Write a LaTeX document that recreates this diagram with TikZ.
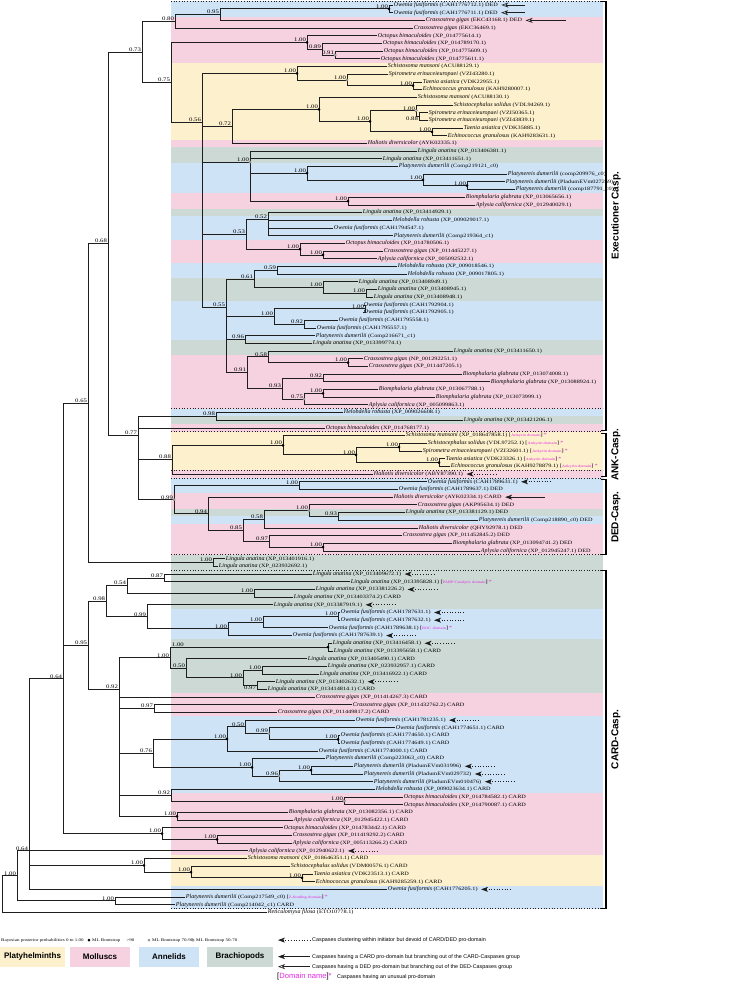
\documentclass[tikz,border=0pt]{standalone}
\usepackage{fontspec}
\usepackage{graphicx}
\setmainfont{Liberation Serif}
\newfontfamily\lsans{Liberation Sans}
\usetikzlibrary{arrows.meta}
\definecolor{ln}{RGB}{30,30,30}
\definecolor{pla}{RGB}{253,240,204}
\definecolor{mol}{RGB}{246,210,224}
\definecolor{ann}{RGB}{207,227,246}
\definecolor{bra}{RGB}{204,217,212}
\definecolor{mag}{RGB}{226,40,226}
\definecolor{dotg}{RGB}{150,150,150}
\tikzset{
 br/.style={draw=ln, line width=0.8pt},
 lf/.style={anchor=west, inner sep=0pt, inner xsep=0.8pt, font=\fontsize{6}{6}\selectfont, text height=4pt, text depth=1.3pt},
 bs/.style={anchor=south east, inner sep=0pt, xshift=-0.8pt, yshift=0.4pt, font=\fontsize{5.4}{5.4}\selectfont},
 bsb/.style={anchor=north east, inner sep=0pt, xshift=-0.8pt, yshift=-0.6pt, font=\fontsize{5.4}{5.4}\selectfont},
 sepl/.style={dotted, line width=0.7pt, draw=ln},
 darrow/.style={dotted, line width=0.7pt, draw=ln, {Stealth[length=7pt,width=5pt,inset=2pt]}-},
 carrow/.style={line width=0.7pt, draw=ln, {Stealth[length=7pt,width=5pt,inset=2pt]}-},
 dedarrow/.style={line width=0.6pt, draw=ln, {Stealth[open,length=7pt,width=5pt,inset=2pt]}-},
 brk/.style={line width=1.1pt, draw=black},
 grp/.style={rotate=90, inner sep=0pt, font=\fontsize{10}{10}\lsans\bfseries},
 lgt/.style={anchor=west, inner sep=0pt, font=\fontsize{4}{4}\selectfont},
 lgr/.style={anchor=west, inner sep=0pt, font=\fontsize{5.4}{5.4}\lsans},
 lgbox/.style={minimum height=20pt, inner sep=0pt, font=\fontsize{8}{8}\lsans\bfseries}
}
\newcommand\st[1]{\scalebox{1.25}[1]{#1}}
\newcommand\ac[1]{\st{\fontsize{5}{5}\selectfont #1}}
\newcommand\nm[2]{\textit{#1} \ac{(#2)}}
\newcommand\dmn[1]{\ \ac{[}\st{\color{mag}\fontsize{3.6}{3.6}\selectfont #1}\ac{]}\,{\color{mag}\ac{*}}}
\newcommand\Lf[3]{\node[lf] (L#1) at (#2,#1) {#3};}
\newcommand\Nd[4]{\coordinate (#1) at (#2,#3);\node[bs] (lb#1) at (#1) {\st{#4}};}
\newcommand\Ndb[4]{\coordinate (#1) at (#2,#3);\node[bsb] (lb#1) at (#1) {\st{#4}};}
\newcommand\Ed[2]{\foreach \kid in {#2}{\draw[br] (#1) |- (\kid);}}
\newcommand\Db[1]{\fill[black] (#1) circle (1.5pt);}
\newcommand\Dg[1]{\fill[dotg] (#1) circle (1.5pt);}
\newcommand\Do[1]{\filldraw[fill=white, draw=black!70, line width=0.4pt] (#1) circle (1.4pt);}
\newcommand\Da[2][30]{\draw[darrow] ([xshift=2.5pt]#2.east) -- ++(#1pt,0);}
\newcommand\Ca[2][30]{\draw[carrow] ([xshift=2.5pt]#2.east) -- ++(#1pt,0);}
\newcommand\Dd[2][30]{\draw[dedarrow] ([xshift=2.5pt]#2.east) -- ++(#1pt,0);}
\begin{document}
\begin{tikzpicture}[x=1pt,y=-7.69pt]
\useasboundingbox (0,-0.65) rectangle (740,127.31);
% ---------- bands
\fill[ann] (171,-0.5) rectangle (603,1.5);
\fill[mol] (171,1.5) rectangle (603,7.5);
\fill[pla] (171,7.5) rectangle (603,17.5);
\fill[mol] (171,17.5) rectangle (603,18.5);
\fill[bra] (171,18.5) rectangle (603,20.5);
\fill[ann] (171,20.5) rectangle (603,24.5);
\fill[mol] (171,24.5) rectangle (603,26.5);
\fill[bra] (171,26.5) rectangle (603,27.5);
\fill[ann] (171,27.5) rectangle (603,30.5);
\fill[mol] (171,30.5) rectangle (603,33.5);
\fill[ann] (171,33.5) rectangle (603,35.5);
\fill[bra] (171,35.5) rectangle (603,38.5);
\fill[ann] (171,38.5) rectangle (603,43.5);
\fill[bra] (171,43.5) rectangle (603,45.5);
\fill[mol] (171,45.5) rectangle (603,52.5);
\fill[ann] (171,52.5) rectangle (603,53.5);
\fill[bra] (171,53.5) rectangle (603,54.5);
\fill[mol] (171,54.5) rectangle (603,55.5);
\fill[pla] (171,55.5) rectangle (603,60.5);
\fill[mol] (171,60.5) rectangle (603,61.5);
\fill[ann] (171,61.5) rectangle (603,63.5);
\fill[mol] (171,63.5) rectangle (603,65.5);
\fill[bra] (171,65.5) rectangle (603,66.5);
\fill[ann] (171,66.5) rectangle (603,67.5);
\fill[mol] (171,67.5) rectangle (603,71.5);
\fill[bra] (171,71.5) rectangle (603,78.5);
\fill[ann] (171,78.5) rectangle (603,82.5);
\fill[bra] (171,82.5) rectangle (603,89.5);
\fill[mol] (171,89.5) rectangle (603,92.5);
\fill[ann] (171,92.5) rectangle (603,102.5);
\fill[mol] (171,102.5) rectangle (603,110.5);
\fill[pla] (171,110.5) rectangle (603,114.5);
\fill[ann] (171,114.5) rectangle (603,117.5);
\foreach \yy in {-0.5,52.5,55.5,60.5,61.5,71.5,73.5,117.5}{\draw[sepl] (171,\yy) -- (603,\yy);}
% ---------- leaves
\Lf{0}{393}{\nm{Owenia fusiformis}{CAH1776712.1} \ac{DED}}
\Lf{1}{393}{\nm{Owenia fusiformis}{CAH1776711.1} \ac{DED}}
\Lf{2}{425}{\nm{Crassostrea gigas}{EKC43168.1} \ac{DED}}
\Lf{3}{413}{\nm{Crassostrea gigas}{EKC36469.1}}
\Lf{4}{377}{\nm{Octopus bimaculoides}{XP\_014775614.1}}
\Lf{5}{382}{\nm{Octopus bimaculoides}{XP\_014789170.1}}
\Lf{6}{383}{\nm{Octopus bimaculoides}{XP\_014775609.1}}
\Lf{7}{380}{\nm{Octopus bimaculoides}{XP\_014775611.1}}
\Lf{8}{387}{\nm{Schistosoma mansoni}{ACU88129.1}}
\Lf{9}{388}{\nm{Spirometra erinaceieuropaei}{VZI43280.1}}
\Lf{10}{422}{\nm{Taenia asiatica}{VDK22955.1}}
\Lf{11}{422}{\nm{Echinococcus granulosus}{KAH9280007.1}}
\Lf{12}{417}{\nm{Schistosoma mansoni}{ACU88130.1}}
\Lf{13}{453}{\nm{Schistocephalus solidus}{VDL94269.1}}
\Lf{14}{428}{\nm{Spirometra erinaceieuropaei}{VZI50365.1}}
\Lf{15}{428}{\nm{Spirometra erinaceieuropaei}{VZI43839.1}}
\Lf{16}{463}{\nm{Taenia asiatica}{VDK35885.1}}
\Lf{17}{447}{\nm{Echinococcus granulosus}{KAH9283631.1}}
\Lf{18}{367}{\nm{Haliotis diversicolor}{AYK02335.1}}
\Lf{19}{417}{\nm{Lingula anatina}{XP\_013406381.1}}
\Lf{20}{382}{\nm{Lingula anatina}{XP\_013411651.1}}
\Lf{21}{398}{\nm{Platynereis dumerilii}{Comp219121\_c0}}
\Lf{22}{507}{\nm{Platynereis dumerilii}{comp209976\_c0}}
\Lf{23}{505}{\nm{Platynereis dumerilii}{PladumEVm027269}}
\Lf{24}{515}{\nm{Platynereis dumerilii}{comp187791\_c0}}
\Lf{25}{465}{\nm{Biomphalaria glabrata}{XP\_013065656.1}}
\Lf{26}{475}{\nm{Aplysia californica}{XP\_012940029.1}}
\Lf{27}{362}{\nm{Lingula anatina}{XP\_013414929.1}}
\Lf{28}{392}{\nm{Helobdella robusta}{XP\_009029017.1}}
\Lf{29}{333}{\nm{Owenia fusiformis}{CAH1794547.1}}
\Lf{30}{393}{\nm{Platynereis dumerilii}{Comp219364\_c1}}
\Lf{31}{345}{\nm{Octopus bimaculoides}{XP\_014780506.1}}
\Lf{32}{383}{\nm{Crassostrea gigas}{XP\_011445227.1}}
\Lf{33}{377}{\nm{Aplysia californica}{XP\_005092532.1}}
\Lf{34}{397}{\nm{Helobdella robusta}{XP\_009018546.1}}
\Lf{35}{407}{\nm{Helobdella robusta}{XP\_009017805.1}}
\Lf{36}{358}{\nm{Lingula anatina}{XP\_013408949.1}}
\Lf{37}{377}{\nm{Lingula anatina}{XP\_013408945.1}}
\Lf{38}{373}{\nm{Lingula anatina}{XP\_013408948.1}}
\Lf{39}{363}{\nm{Owenia fusiformis}{CAH1792904.1}}
\Lf{40}{363}{\nm{Owenia fusiformis}{CAH1792905.1}}
\Lf{41}{338}{\nm{Owenia fusiformis}{CAH1795558.1}}
\Lf{42}{316}{\nm{Owenia fusiformis}{CAH1795557.1}}
\Lf{43}{315}{\nm{Platynereis dumerilii}{Comp216671\_c1}}
\Lf{44}{312}{\nm{Lingula anatina}{XP\_013399774.1}}
\Lf{45}{453}{\nm{Lingula anatina}{XP\_013411650.1}}
\Lf{46}{363}{\nm{Crassostrea gigas}{NP\_001292251.1}}
\Lf{47}{368}{\nm{Crassostrea gigas}{XP\_011447205.1}}
\Lf{48}{462}{\nm{Biomphalaria glabrata}{XP\_013074008.1}}
\Lf{49}{490}{\nm{Biomphalaria glabrata}{XP\_013088924.1}}
\Lf{50}{378}{\nm{Biomphalaria glabrata}{XP\_013067788.1}}
\Lf{51}{435}{\nm{Biomphalaria glabrata}{XP\_013073999.1}}
\Lf{52}{368}{\nm{Aplysia californica}{XP\_005099863.1}}
\Lf{53}{343}{\nm{Helobdella robusta}{XP\_009026608.1}}
\Lf{54}{463}{\nm{Lingula anatina}{XP\_013421206.1}}
\Lf{55}{325}{\nm{Octopus bimaculoides}{XP\_014768177.1}}
\Lf{56}{405}{\nm{Schistosoma mansoni}{XP\_018647858.1}\dmn{Ankyrin domain}}
\Lf{57}{427}{\nm{Schistocephalus solidus}{VDL97252.1}\dmn{Ankyrin domain}}
\Lf{58}{422}{\nm{Spirometra erinaceieuropaei}{VZI32601.1}\dmn{Ankyrin domain}}
\Lf{59}{445}{\nm{Taenia asiatica}{VDK23326.1}\dmn{Ankyrin domain}}
\Lf{60}{450}{\nm{Echinococcus granulosus}{KAH9278879.1}\dmn{Ankyrin domain}}
\Lf{61}{373}{\nm{Haliotis diversicolor}{ABY87390.1}}
\Lf{62}{427}{\nm{Owenia fusiformis}{CAH1789631.1}}
\Lf{63}{398}{\nm{Owenia fusiformis}{CAH1789637.1} \ac{DED}}
\Lf{64}{393}{\nm{Haliotis diversicolor}{AYK02334.1} \ac{CARD}}
\Lf{65}{417}{\nm{Crassostrea gigas}{AKP95634.1} \ac{DED}}
\Lf{66}{405}{\nm{Lingula anatina}{XP\_013381129.1} \ac{DED}}
\Lf{67}{478}{\nm{Platynereis dumerilii}{Comp218890\_c0} \ac{DED}}
\Lf{68}{418}{\nm{Haliotis diversicolor}{QHY92978.1} \ac{DED}}
\Lf{69}{402}{\nm{Crassostrea gigas}{XP\_011452845.2} \ac{DED}}
\Lf{70}{452}{\nm{Biomphalaria glabrata}{XP\_013094741.2} \ac{DED}}
\Lf{71}{480}{\nm{Aplysia californica}{XP\_012945247.1} \ac{DED}}
\Lf{72}{225}{\nm{Lingula anatina}{XP\_013401916.1}}
\Lf{73}{218}{\nm{Lingula anatina}{XP\_023932692.1}}
\Lf{74}{312}{\nm{Lingula anatina}{XP\_013409672.1}}
\Lf{75}{350}{\nm{Lingula anatina}{XP\_013395828.1}\dmn{PARP Catalytic domain}}
\Lf{76}{315}{\nm{Lingula anatina}{XP\_013381226.2}}
\Lf{77}{293}{\nm{Lingula anatina}{XP\_013403374.2} \ac{CARD}}
\Lf{78}{273}{\nm{Lingula anatina}{XP\_013387919.1}}
\Lf{79}{340}{\nm{Owenia fusiformis}{CAH1787631.1}}
\Lf{80}{340}{\nm{Owenia fusiformis}{CAH1787632.1}}
\Lf{81}{328}{\nm{Owenia fusiformis}{CAH1789638.1}\dmn{ROC domain}}
\Lf{82}{292}{\nm{Owenia fusiformis}{CAH1787639.1}}
\Lf{83}{332}{\nm{Lingula anatina}{XP\_013416458.1}}
\Lf{84}{333}{\nm{Lingula anatina}{XP\_013395658.1} \ac{CARD}}
\Lf{85}{307}{\nm{Lingula anatina}{XP\_013405490.1} \ac{CARD}}
\Lf{86}{327}{\nm{Lingula anatina}{XP\_023932957.1} \ac{CARD}}
\Lf{87}{319}{\nm{Lingula anatina}{XP\_013416922.1} \ac{CARD}}
\Lf{88}{275}{\nm{Lingula anatina}{XP\_013402632.1}}
\Lf{89}{267}{\nm{Lingula anatina}{XP\_013414814.1} \ac{CARD}}
\Lf{90}{315}{\nm{Crassostrea gigas}{XP\_011414267.3} \ac{CARD}}
\Lf{91}{352}{\nm{Crassostrea gigas}{XP\_011432762.2} \ac{CARD}}
\Lf{92}{277}{\nm{Crassostrea gigas}{XP\_011449817.2} \ac{CARD}}
\Lf{93}{355}{\nm{Owenia fusiformis}{CAH1781235.1}}
\Lf{94}{395}{\nm{Owenia fusiformis}{CAH1774651.1} \ac{CARD}}
\Lf{95}{340}{\nm{Owenia fusiformis}{CAH1774650.1} \ac{CARD}}
\Lf{96}{340}{\nm{Owenia fusiformis}{CAH1774649.1} \ac{CARD}}
\Lf{97}{318}{\nm{Owenia fusiformis}{CAH1774000.1} \ac{CARD}}
\Lf{98}{325}{\nm{Platynereis dumerilii}{Comp223063\_c0} \ac{CARD}}
\Lf{99}{353}{\nm{Platynereis dumerilii}{PladumEVm031996}}
\Lf{100}{363}{\nm{Platynereis dumerilii}{PladumEVm029732}}
\Lf{101}{373}{\nm{Platynereis dumerilii}{PladumEVm010476}}
\Lf{102}{375}{\nm{Helobdella robusta}{XP\_009023634.1} \ac{CARD}}
\Lf{103}{403}{\nm{Octopus bimaculoides}{XP\_014784582.1} \ac{CARD}}
\Lf{104}{403}{\nm{Octopus bimaculoides}{XP\_014790087.1} \ac{CARD}}
\Lf{105}{288}{\nm{Biomphalaria glabrata}{XP\_013082356.1} \ac{CARD}}
\Lf{106}{293}{\nm{Aplysia californica}{XP\_012945422.1} \ac{CARD}}
\Lf{107}{283}{\nm{Octopus bimaculoides}{XP\_014783442.1} \ac{CARD}}
\Lf{108}{292}{\nm{Crassostrea gigas}{XP\_011419292.2} \ac{CARD}}
\Lf{109}{292}{\nm{Aplysia californica}{XP\_005113266.2} \ac{CARD}}
\Lf{110}{248}{\nm{Aplysia californica}{XP\_012940622.1}}
\Lf{111}{247}{\nm{Schistosoma mansoni}{XP\_018646351.1} \ac{CARD}}
\Lf{112}{290}{\nm{Schistocephalus solidus}{VDM00576.1} \ac{CARD}}
\Lf{113}{313}{\nm{Taenia asiatica}{VDK23513.1} \ac{CARD}}
\Lf{114}{315}{\nm{Echinococcus granulosus}{KAH9285259.1} \ac{CARD}}
\Lf{115}{387}{\nm{Owenia fusiformis}{CAH1776205.1}}
\Lf{116}{185}{\nm{Platynereis dumerilii}{Comp217549\_c0}\dmn{Z-binding domain}}
\Lf{117}{175}{\nm{Platynereis dumerilii}{Comp214042\_c1} \ac{CARD}}
\Lf{118}{267}{\nm{Reticulomyxa filosa}{ETO10778.1}}
% ---------- internal nodes
\Nd{nOw1}{389}{0.5}{1.00}
\Nd{n095t}{220}{1.25}{0.95}
\Nd{n080}{175}{2.125}{0.80}
\Nd{n091}{335}{6.5}{0.91}
\Nd{n089}{322}{5.75}{0.89}
\Nd{nOct}{307}{4.875}{1.00}
\Nd{P1c}{413}{10.5}{1.00}
\Nd{P1b}{347}{9.75}{1.00}
\Nd{P1}{297}{8.875}{1.00}
\Ndb{P2e}{419}{14.5}{0.88}
\Nd{P2c}{416}{13.75}{1.00}
\Nd{P2d}{432}{16.5}{1.00}
\Nd{P2b}{370}{15.125}{1.00}
\Nd{P2}{319}{13.56}{1.00}
\Nd{n072}{232}{15.78}{0.72}
\Nd{PLc}{467}{23.5}{1.00}
\Nd{PLb}{423}{22.75}{1.00}
\Nd{PL}{307}{21.875}{1.00}
\Nd{BA}{348}{25.5}{1.00}
\Nd{nL1}{250}{20.42}{1.00}
\Nd{n052}{268}{27.875}{0.52}
\Nd{OCAb}{323}{32.5}{1.00}
\Nd{OCA}{300}{31.75}{1.00}
\Nd{n053}{246}{29.81}{0.53}
\Nd{n059}{277}{34.5}{0.59}
\Nd{nL3b}{366}{37.5}{1.00}
\Nd{nL3}{323}{36.75}{1.00}
\Nd{n061}{254}{35.625}{0.61}
\Nd{OW2a}{365}{39.5}{1.00}
\Nd{n092}{304}{41.5}{0.92}
\Nd{OW2}{274}{40.5}{1.00}
\Nd{n096}{245}{43.5}{0.96}
\Nd{CG}{348}{46.5}{1.00}
\Nd{n058}{268}{45.75}{0.58}
\Nd{n092b}{323}{48.5}{0.92}
\Nd{BG2}{323}{50.5}{1.00}
\Nd{n075b}{304}{51.25}{0.75}
\Nd{n093}{282}{49.875}{0.93}
\Nd{n091b}{247}{47.81}{0.91}
\Nd{n055}{226}{39.35}{0.55}
\Nd{n056}{202}{15.26}{0.56}
\Nd{n075}{171}{10.07}{0.75}
\Nd{n073}{142}{6.10}{0.73}
\Nd{n098}{216}{53.5}{0.98}
\Nd{ANKc}{399}{57.5}{1.00}
\Nd{ANKd}{439}{59.5}{1.00}
\Nd{ANKb}{356}{58.5}{1.00}
\Nd{ANK}{283}{57.25}{1.00}
\Nd{n088}{172}{59.125}{0.88}
\Nd{OW3}{299}{62.5}{1.00}
\Nd{n093b}{338}{66.5}{0.93}
\Nd{CL}{309}{65.75}{1.00}
\Nd{n058b}{264}{66.875}{0.58}
\Nd{BA2}{323}{70.5}{1.00}
\Nd{n097}{269}{69.75}{0.97}
\Nd{n085}{243}{68.31}{0.85}
\Nd{n094}{208}{66.16}{0.94}
\Nd{n099}{174}{64.33}{0.99}
\Nd{n077}{138}{55.93}{0.77}
\Nd{n068}{108}{31.02}{0.68}
\Nd{LL}{213}{72.5}{1.00}
\Nd{n065}{88}{51.76}{0.65}
\Nd{n087}{164}{74.5}{0.87}
\Nd{LP}{254}{76.5}{1.00}
\Nd{n054}{127}{75.5}{0.54}
\Nd{OW4b}{338}{79.5}{1.00}
\Nd{OW4a}{263}{80.25}{1.00}
\Nd{OW4}{228}{81.125}{1.00}
\Nd{n099c}{147}{79.56}{0.99}
\Nd{n098c}{106}{77.53}{0.98}
\coordinate (nL5) at (328,83.5);
\node[bs, anchor=south west, xshift=1.6pt] (lbnL5) at (171,83.5) {\st{1.00}};
\Nd{nL7}{262}{86.5}{1.00}
\Ndb{n097c}{257}{88.5}{0.97}
\Nd{nL6}{243}{87.5}{1.00}
\Nd{n050}{186}{86.25}{0.50}
\Nd{nL4}{170}{84.875}{1.00}
\Nd{n097d}{154}{91.5}{0.97}
\Nd{OW6}{338}{95.5}{1.00}
\Nd{n099d}{269}{94.75}{0.99}
\Nd{n050b}{245}{93.875}{0.50}
\Nd{OW5}{227}{95.44}{1.00}
\Nd{PL3}{311}{99.5}{1.00}
\Nd{n096b}{279}{100.25}{0.96}
\Nd{PL2}{252}{99.125}{1.00}
\Nd{n076}{153}{97.28}{0.76}
\Nd{OC2}{344}{103.5}{1.00}
\Nd{n092d}{171}{102.75}{0.92}
\Nd{BA3}{177}{105.5}{1.00}
\Nd{n092c}{119}{88.96}{0.92}
\Nd{n095}{88}{83.25}{0.95}
\Nd{CB2}{217}{108.5}{1.00}
\Nd{CB}{162}{107.75}{1.00}
\Nd{nX}{63}{87.63}{0.64}
\Nd{Sc}{302}{113.5}{1.00}
\Nd{Sb}{191}{112.75}{1.00}
\Nd{Sa}{144}{111.875}{1.00}
\Nd{N2}{29}{110}{0.64}
\Nd{PP}{115}{116.5}{1.00}
\Nd{N1}{17}{113.25}{1.00}
\coordinate (root) at (2,115.7);
% ---------- edges
\Ed{nOw1}{L0,L1}
\Ed{n095t}{nOw1,L2}
\Ed{n080}{n095t,L3}
\Ed{n091}{L6,L7}
\Ed{n089}{L5,n091}
\Ed{nOct}{L4,n089}
\Ed{P1c}{L10,L11}
\Ed{P1b}{L9,P1c}
\Ed{P1}{L8,P1b}
\Ed{P2e}{L14,L15}
\Ed{P2c}{L13,P2e}
\Ed{P2d}{L16,L17}
\Ed{P2b}{P2c,P2d}
\Ed{P2}{L12,P2b}
\Ed{n072}{P2,L18}
\Ed{PLc}{L23,L24}
\Ed{PLb}{L22,PLc}
\Ed{PL}{L21,PLb}
\Ed{BA}{L25,L26}
\Ed{nL1}{L19,L20,PL,BA}
\Ed{n052}{L27,L28,L29,L30}
\Ed{OCAb}{L32,L33}
\Ed{OCA}{L31,OCAb}
\Ed{n053}{n052,OCA}
\Ed{n059}{L34,L35}
\Ed{nL3b}{L37,L38}
\Ed{nL3}{L36,nL3b}
\Ed{n061}{n059,nL3}
\Ed{OW2a}{L39,L40}
\Ed{n092}{L41,L42}
\Ed{OW2}{OW2a,n092}
\Ed{n096}{L43,L44}
\Ed{CG}{L46,L47}
\Ed{n058}{L45,CG}
\Ed{n092b}{L48,L49}
\Ed{BG2}{L50,L51}
\Ed{n075b}{BG2,L52}
\Ed{n093}{n092b,n075b}
\Ed{n091b}{n058,n093}
\Ed{n055}{n061,OW2,n096,n091b}
\Ed{n056}{P1,n072,nL1,n053,n055}
\Ed{n075}{nOct,n056}
\Ed{n073}{n080,n075}
\Ed{n098}{L53,L54}
\Ed{ANKc}{L57,L58}
\Ed{ANKd}{L59,L60}
\Ed{ANKb}{ANKc,ANKd}
\Ed{ANK}{L56,ANKb}
\Ed{n088}{ANK,L61}
\Ed{OW3}{L62,L63}
\Ed{n093b}{L66,L67}
\Ed{CL}{L65,n093b}
\Ed{n058b}{CL,L68}
\Ed{BA2}{L70,L71}
\Ed{n097}{L69,BA2}
\Ed{n085}{n058b,n097}
\Ed{n094}{L64,n085}
\Ed{n099}{OW3,n094}
\Ed{n077}{n098,L55,n088,n099}
\Ed{n068}{n073,n077}
\Ed{LL}{L72,L73}
\Ed{n065}{n068,LL}
\Ed{n087}{L74,L75}
\Ed{LP}{L76,L77}
\Ed{n054}{n087,LP}
\Ed{OW4b}{L79,L80}
\Ed{OW4a}{OW4b,L81}
\Ed{OW4}{OW4a,L82}
\Ed{n099c}{L78,OW4}
\Ed{n098c}{n054,n099c}
\Ed{nL5}{L83,L84}
\Ed{nL7}{L86,L87}
\Ed{n097c}{L88,L89}
\Ed{nL6}{nL7,n097c}
\Ed{n050}{L85,nL6}
\Ed{nL4}{nL5,n050}
\Ed{n097d}{L91,L92}
\Ed{OW6}{L95,L96}
\Ed{n099d}{L94,OW6}
\Ed{n050b}{L93,n099d}
\Ed{OW5}{n050b,L97}
\Ed{PL3}{L99,L100}
\Ed{n096b}{PL3,L101}
\Ed{PL2}{L98,n096b}
\Ed{n076}{OW5,PL2}
\Ed{OC2}{L103,L104}
\Ed{n092d}{L102,OC2}
\Ed{BA3}{L105,L106}
\Ed{n092c}{nL4,L90,n097d,n076,n092d,BA3}
\Ed{n095}{n098c,n092c}
\Ed{CB2}{L108,L109}
\Ed{CB}{L107,CB2}
\Ed{nX}{n065,n095,CB}
\Ed{Sc}{L113,L114}
\Ed{Sb}{L112,Sc}
\Ed{Sa}{L111,Sb}
\Ed{N2}{nX,L110,Sa,L115}
\Ed{PP}{L116,L117}
\Ed{N1}{N2,PP}
\Ed{root}{N1,L118}
% ---------- support dots
\Db{nOw1}\Db{nOct}\Db{P1}\Db{P1c}\Db{P2}\Db{P2b}\Db{P2d}\Db{PL}\Db{PLb}\Db{PLc}\Db{BA}
\Db{OCA}\Db{OCAb}\Db{CG}\Db{BG2}\Db{ANK}\Db{ANKb}\Db{ANKc}\Db{ANKd}\Db{BA2}\Db{nL5}
\Db{OW5}\Db{OW6}\Db{PL2}\Db{PL3}\Db{BA3}\Db{CB}\Db{CB2}\Db{Sa}\Db{Sb}\Db{Sc}
\Dg{P1b}\Dg{nL1}\Dg{n075b}\Dg{n099}\Dg{CL}\Dg{n099d}\Dg{n096b}
\Do{n091}\Do{P2c}\Do{OC2}
% ---------- arrows
\Dd[24]{L0}\Dd[24]{L1}\Dd[40]{L2}
\Ca[40]{L64}
\Da{L61}\Da{L62}\Da{L74}\Da{L76}\Da{L78}\Da{L79}\Da{L80}\Da{L82}\Da{L83}
\Da{L88}\Da{L93}\Da{L99}\Da{L100}\Da{L101}\Da{L110}\Da{L115}
% ---------- group brackets
\draw[brk] (601,-0.5) -| (606,55.3) -- (601,55.3);
\draw[brk] (601,55.7) -| (606,61.3) -- (601,61.3);
\draw[brk] (601,61.7) -| (606,71.5) -- (601,71.5);
\draw[brk] (601,73.5) -| (606,117.5) -- (601,117.5);
\node[grp] (gE) at (616,27.4) {Executioner Casp.};
\node[grp] (gA) at (616,58.5) {ANK-Casp.};
\node[grp] (gD) at (616,66.6) {DED-Casp.};
\node[grp] (gC) at (616,95.5) {CARD-Casp.};
% ---------- legend
\node[lgt] (lgA) at (1,121.6) {\st{Bayesian posterior probabilities 0 to 1.00}};
\fill[black] (89,121.6) circle (1.4pt);
\node[lgt] (lgB) at (92,121.6) {\st{ML Bootstrap\hspace{5pt}>90}};
\fill[dotg] (149,121.6) circle (1.4pt);
\node[lgt] (lgC) at (152,121.6) {\st{ML Bootstrap 70-90}};
\filldraw[fill=white, draw=black!70, line width=0.4pt] (193,121.6) circle (1.3pt);
\node[lgt] (lgD) at (196,121.6) {\st{ML Bootstrap 50-70}};
\node[lgbox, fill=pla, minimum width=65pt] (bxP) at (32.5,123.75) {Platyhelminths};
\node[lgbox, fill=mol, minimum width=60pt] (bxM) at (100,123.75) {Molluscs};
\node[lgbox, fill=ann, minimum width=60pt] (bxA) at (169,123.75) {Annelids};
\node[lgbox, fill=bra, minimum width=66pt] (bxB) at (240,123.75) {Brachiopods};
\coordinate (ka) at (278,121.6); \coordinate (kb) at (310,121.6);
\draw[darrow] (ka) -- (kb);
\node[lgr] (lgE) at (312,121.6) {Caspases clustering within initiator but devoid of CARD/DED pro-domain};
\coordinate (kc) at (278,123.75); \coordinate (kd) at (310,123.75);
\draw[carrow] (kc) -- (kd);
\node[lgr] (lgF) at (312,123.75) {Caspases having a CARD pro-domain but branching out of the CARD-Caspases group};
\coordinate (ke) at (278,125.05); \coordinate (kf) at (310,125.05);
\draw[dedarrow] (ke) -- (kf);
\node[lgr] (lgG) at (312,125.05) {Caspases having a DED pro-domain but branching out of the DED-Caspases group};
\node[lgr, font=\fontsize{7.6}{7.6}\lsans] (lgH) at (277,126.4) {[\textcolor{mag}{Domain name}]\textcolor{mag}{*}};
\node[lgr] (lgI) at (337,126.4) {Caspases having an unusual pro-domain};
\end{tikzpicture}
\end{document}
